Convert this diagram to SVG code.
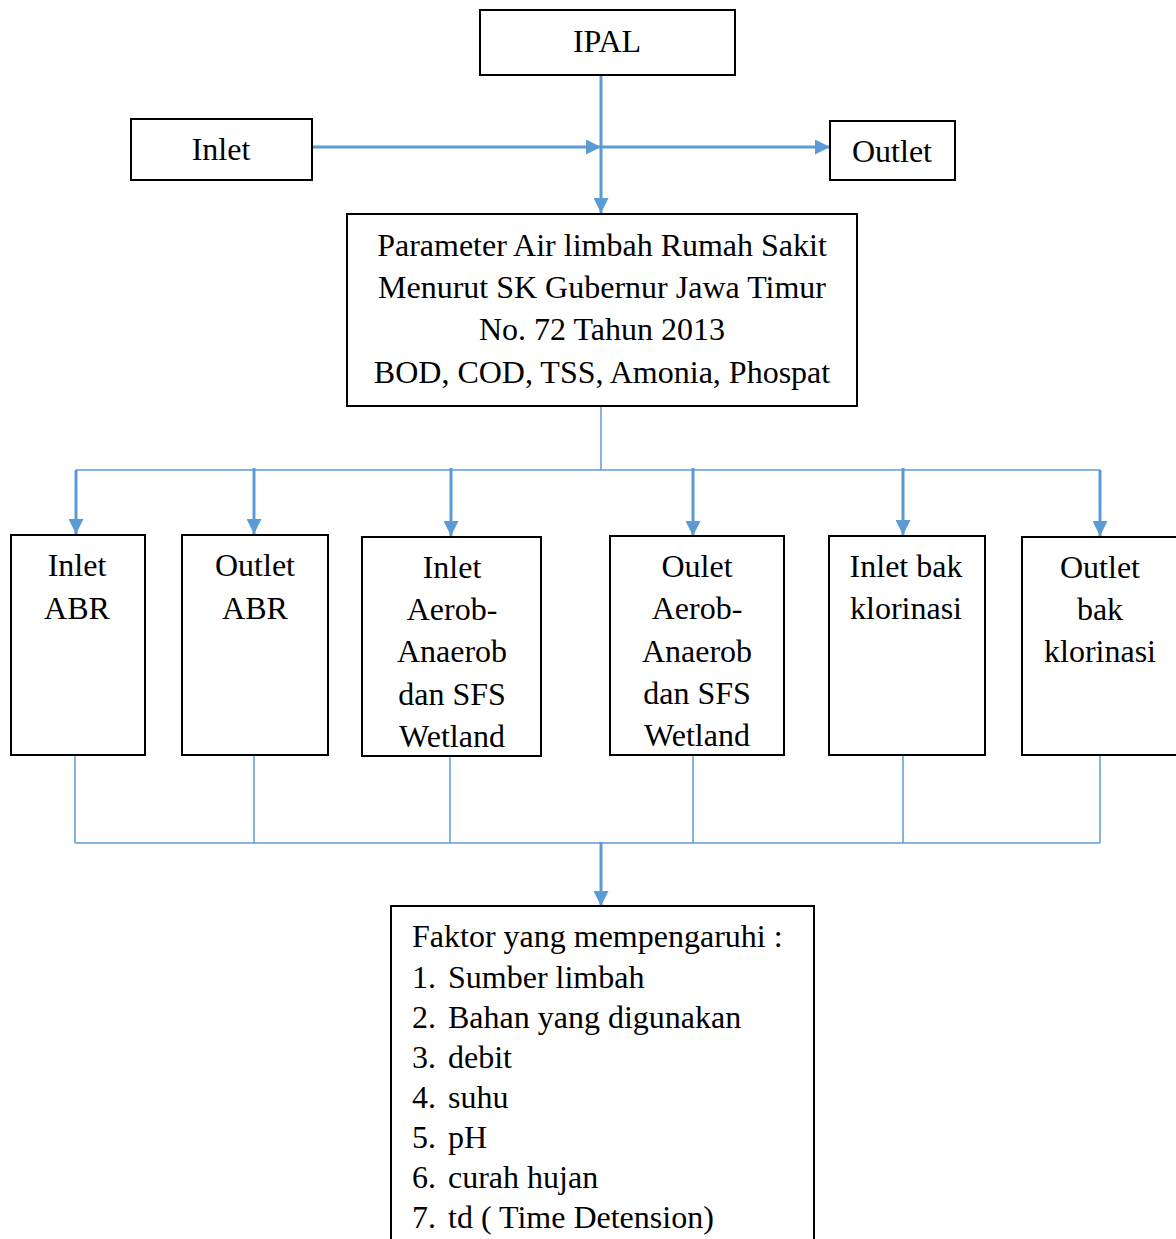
<svg xmlns="http://www.w3.org/2000/svg" width="1176" height="1239" viewBox="0 0 1176 1239">
<style>
.box{fill:#fff;stroke:#000;stroke-width:2}
.t{font-family:"Liberation Serif","Times New Roman",serif;font-size:32px;fill:#000}
.c{text-anchor:middle}
.thick{stroke:#5B9BD5;stroke-width:3;fill:none}
.thin{stroke:#5B9BD5;stroke-width:1.5;fill:none}
</style>
<defs>
<marker id="a" viewBox="0 0 10 10" refX="10" refY="5" markerWidth="15" markerHeight="15" markerUnits="userSpaceOnUse" orient="auto">
<path d="M0,0 L10,5 L0,10 z" fill="#5B9BD5"/>
</marker>
</defs>

<g id="connectors">
<line class="thick" x1="601" y1="75" x2="601" y2="213" marker-end="url(#a)"/>
<line class="thick" x1="312" y1="147" x2="601" y2="147" marker-end="url(#a)"/>
<line class="thick" x1="601" y1="147" x2="830" y2="147" marker-end="url(#a)"/>
<line class="thin" x1="601" y1="406" x2="601" y2="470"/>
<polyline class="thin" points="76,470 1100,470"/>
<line class="thick" x1="76" y1="470" x2="76" y2="534" marker-end="url(#a)"/>
<line class="thick" x1="254" y1="468" x2="254" y2="534" marker-end="url(#a)"/>
<line class="thick" x1="451" y1="468" x2="451" y2="536" marker-end="url(#a)"/>
<line class="thick" x1="693" y1="468" x2="693" y2="536" marker-end="url(#a)"/>
<line class="thick" x1="903" y1="468" x2="903" y2="535" marker-end="url(#a)"/>
<line class="thick" x1="1100" y1="470" x2="1100" y2="536" marker-end="url(#a)"/>
<line class="thin" x1="75" y1="755" x2="75" y2="843"/>
<line class="thin" x1="254" y1="755" x2="254" y2="843"/>
<line class="thin" x1="450" y1="756" x2="450" y2="843"/>
<line class="thin" x1="693" y1="755" x2="693" y2="843"/>
<line class="thin" x1="903" y1="755" x2="903" y2="843"/>
<line class="thin" x1="1100" y1="755" x2="1100" y2="843"/>
<line class="thin" x1="75" y1="843" x2="1100" y2="843"/>
<line class="thick" x1="601" y1="842" x2="601" y2="906" marker-end="url(#a)"/>
</g>

<g id="ipal">
<rect class="box" x="480" y="10" width="255" height="65"/>
<text class="t c" x="607" y="52">IPAL</text>
</g>
<g id="inlet">
<rect class="box" x="131" y="119" width="181" height="61"/>
<text class="t c" x="221" y="160">Inlet</text>
</g>
<g id="outlet">
<rect class="box" x="830" y="121" width="125" height="59"/>
<text class="t c" x="892" y="162">Outlet</text>
</g>
<g id="parameter">
<rect class="box" x="347" y="214" width="510" height="192"/>
<text class="t c" x="602" y="256">Parameter Air limbah Rumah Sakit</text>
<text class="t c" x="602" y="298">Menurut SK Gubernur Jawa Timur</text>
<text class="t c" x="602" y="340">No. 72 Tahun 2013</text>
<text class="t c" x="602" y="383">BOD, COD, TSS, Amonia, Phospat</text>
</g>
<g id="inlet-abr">
<rect class="box" x="11" y="535" width="134" height="220"/>
<text class="t c" x="77" y="576">Inlet</text>
<text class="t c" x="77" y="619">ABR</text>
</g>
<g id="outlet-abr">
<rect class="box" x="182" y="535" width="146" height="220"/>
<text class="t c" x="255" y="576">Outlet</text>
<text class="t c" x="255" y="619">ABR</text>
</g>
<g id="inlet-aerob">
<rect class="box" x="362" y="537" width="179" height="219"/>
<text class="t c" x="452" y="578">Inlet</text>
<text class="t c" x="452" y="620">Aerob-</text>
<text class="t c" x="452" y="662">Anaerob</text>
<text class="t c" x="452" y="705">dan SFS</text>
<text class="t c" x="452" y="747">Wetland</text>
</g>
<g id="oulet-aerob">
<rect class="box" x="610" y="536" width="174" height="219"/>
<text class="t c" x="697" y="577">Oulet</text>
<text class="t c" x="697" y="619">Aerob-</text>
<text class="t c" x="697" y="662">Anaerob</text>
<text class="t c" x="697" y="704">dan SFS</text>
<text class="t c" x="697" y="746">Wetland</text>
</g>
<g id="inlet-klor">
<rect class="box" x="829" y="536" width="156" height="219"/>
<text class="t c" x="906" y="577">Inlet bak</text>
<text class="t c" x="906" y="619">klorinasi</text>
</g>
<g id="outlet-klor">
<rect class="box" x="1022" y="537" width="160" height="218"/>
<text class="t c" x="1100" y="578">Outlet</text>
<text class="t c" x="1100" y="620">bak</text>
<text class="t c" x="1100" y="662">klorinasi</text>
</g>
<g id="faktor">
<rect class="box" x="391" y="906" width="423" height="345"/>
<text class="t" x="412" y="947">Faktor yang mempengaruhi :</text>
<text class="t" x="412" y="988">1.</text><text class="t" x="448" y="988">Sumber limbah</text>
<text class="t" x="412" y="1028">2.</text><text class="t" x="448" y="1028">Bahan yang digunakan</text>
<text class="t" x="412" y="1068">3.</text><text class="t" x="448" y="1068">debit</text>
<text class="t" x="412" y="1108">4.</text><text class="t" x="448" y="1108">suhu</text>
<text class="t" x="412" y="1148">5.</text><text class="t" x="448" y="1148">pH</text>
<text class="t" x="412" y="1188">6.</text><text class="t" x="448" y="1188">curah hujan</text>
<text class="t" x="412" y="1228">7.</text><text class="t" x="448" y="1228">td ( Time Detension)</text>
</g>
</svg>
